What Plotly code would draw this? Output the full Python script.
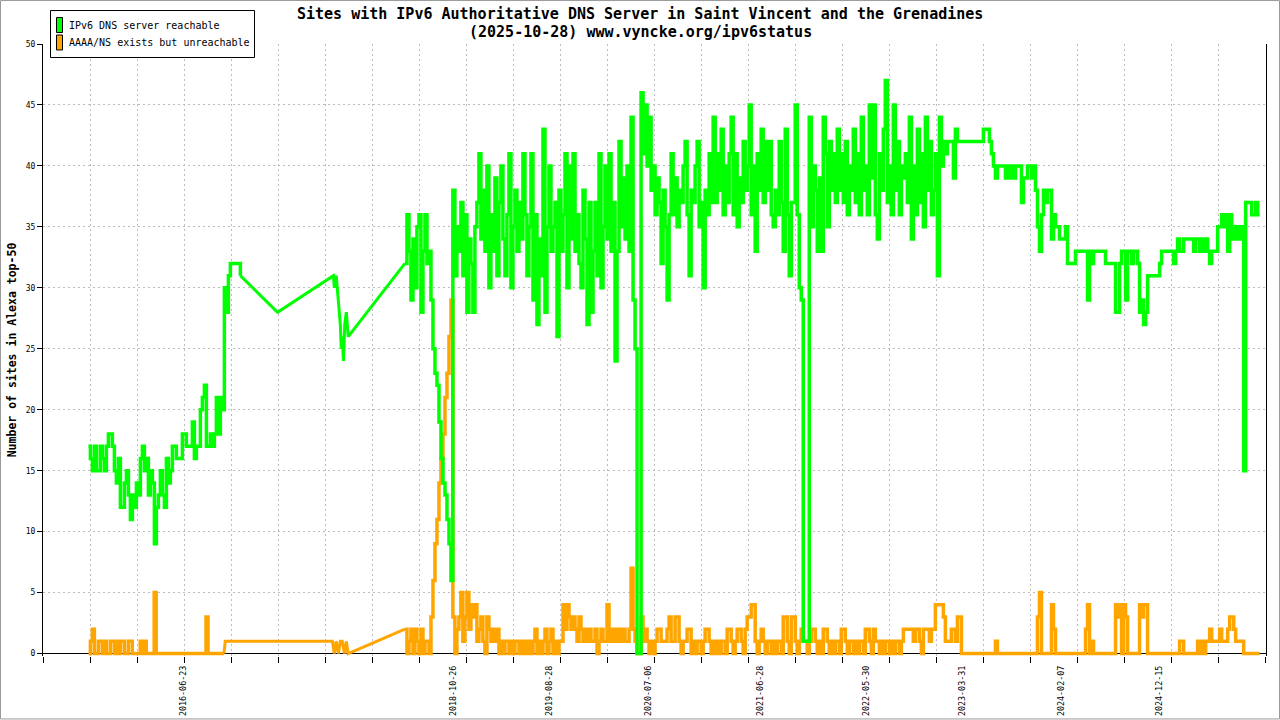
import pandas as pd
import plotly.graph_objects as go

TITLE_LINE1 = "Sites with IPv6 Authoritative DNS Server in Saint Vincent and the Grenadines"
TITLE_LINE2 = "(2025-10-28) www.vyncke.org/ipv6status"
Y_TITLE = "Number of sites in Alexa top-50"
NAME_REACH = "IPv6 DNS server reachable"
NAME_UNREACH = "AAAA/NS exists but unreachable"
COLOR_REACH = "#00ff00"
COLOR_UNREACH = "#ffa500"

TICK_DATES = ["2016-06-23", "2018-10-26", "2019-08-28", "2020-07-06", "2021-06-28",
              "2022-05-30", "2023-03-31", "2024-02-07", "2024-12-15"]
X_START, X_END = "2015-04-05", "2025-11-17"
GRID_DAYS = 149.15

# ---- period 1: 2015-08 .. 2016-12 (regular samples)
P1_REACH_START, P1_REACH_END = "2015-08-27", "2016-12-21"
reach_p1 = [17, 16, 15, 17, 15, 15, 17, 16, 15, 17,
            18, 18, 17, 15, 14, 16, 12, 12, 14, 15,
            13, 11, 13, 12, 14, 13, 16, 17, 15, 16,
            13, 15, 14, 9, 12, 13, 15, 13, 12, 16,
            14, 15, 17, 17, 16, 16, 16, 18, 18, 17,
            17, 17, 19, 16, 17, 17, 20, 21, 22, 17,
            17, 18, 17, 18, 21, 18, 21, 20, 30, 28,
            31, 32, 32, 32, 32, 32, 31]
P1_UNREACH_START, P1_UNREACH_END = "2015-08-27", "2016-10-30"
unreach_p1 = [0, 1, 2, 0, 0, 1, 1, 0, 1, 0,
              0, 1, 1, 0, 1, 0, 1, 1, 0, 0,
              1, 1, 0, 0, 0, 0, 1, 0, 1, 0,
              0, 0, 0, 5, 0, 0, 0, 0, 0, 0,
              0, 0, 0, 0, 0, 0, 0, 0, 0, 0,
              0, 0, 0, 0, 0, 0, 0, 0, 0, 3,
              0, 0, 0, 0, 0, 0, 0, 0, 0]

# ---- period 2: sparse measurements 2016-11 .. 2017-11
reach_gap_dates = ["2017-04-18", "2017-10-12", "2017-10-15", "2017-10-21", "2017-10-28",
                   "2017-11-03", "2017-11-06", "2017-11-09", "2017-11-13", "2017-11-17",
                   "2017-11-22", "2017-11-28"]
reach_gap = [28, 31, 30, 31, 29, 27, 25, 26, 24, 27, 28, 26]
unreach_gap_dates = ["2016-11-03", "2017-10-09", "2017-10-15", "2017-10-21", "2017-10-28",
                     "2017-11-03", "2017-11-09", "2017-11-16", "2017-11-22", "2017-11-28"]
unreach_gap = [1, 1, 0, 1, 0, 1, 1, 0, 1, 0]

# ---- period 3: 2018-05 .. 2018-10
P3_START, P3_END = "2018-05-27", "2018-10-20"
reach_p3 = [32, 36, 33, 29, 34, 30, 35, 36, 28, 33, 36, 32,
            33, 29, 25, 23, 22, 19, 16, 14, 13, 11, 9, 6]
unreach_p3 = [2, 0, 1, 2, 0, 2, 1, 0, 2, 0, 1, 1,
              0, 3, 6, 9, 11, 14, 16, 18, 21, 23, 26, 29]

# ---- period 4: 2018-10-26 .. 2025-10-28 (regular samples)
P4_START, P4_END = "2018-10-26", "2025-10-28"
reach_p4 = [38, 31, 35, 33, 37, 31, 36, 28, 34, 32,
            28, 35, 37, 41, 34, 38, 33, 40, 30, 36,
            33, 39, 31, 37, 40, 34, 31, 36, 41, 30,
            35, 38, 33, 37, 34, 41, 36, 31, 35, 41,
            29, 36, 27, 34, 31, 43, 28, 35, 40, 33,
            35, 37, 26, 38, 33, 36, 41, 30, 40, 34,
            41, 33, 36, 32, 30, 38, 34, 27, 37, 28,
            33, 37, 31, 41, 30, 35, 40, 34, 41, 33,
            37, 24, 33, 42, 35, 39, 34, 40, 33, 44,
            29, 25, 0, 0, 46, 41, 45, 40, 44, 38,
            40, 36, 39, 37, 32, 38, 35, 29, 36, 41,
            36, 39, 35, 38, 37, 40, 42, 36, 31, 38,
            37, 40, 42, 35, 37, 30, 38, 36, 41, 37,
            44, 37, 41, 38, 43, 36, 40, 37, 41, 44,
            36, 41, 35, 39, 37, 42, 38, 40, 45, 36,
            40, 33, 41, 38, 43, 37, 42, 38, 42, 36,
            35, 38, 36, 42, 37, 33, 43, 36, 31, 37,
            37, 45, 36, 30, 29, 1, 1, 1, 44, 35,
            40, 38, 33, 39, 33, 44, 41, 35, 42, 38,
            41, 37, 43, 38, 41, 37, 42, 36, 40, 38,
            43, 37, 41, 36, 44, 38, 40, 36, 45, 39,
            45, 36, 34, 41, 38, 43, 47, 37, 40, 36,
            45, 38, 42, 36, 40, 39, 41, 37, 44, 34,
            40, 36, 43, 37, 41, 35, 44, 38, 42, 36,
            38, 41, 31, 44, 40, 42, 41, 42, 42, 42,
            39, 43, 42, 42]
reach_p5 = [42, 42, 42, 42, 42, 42, 42, 42, 42, 42,
            42, 43, 43, 43, 42, 41, 40, 39, 40, 40,
            40, 40, 39, 40, 39, 40, 39, 40, 40, 40,
            37, 39, 39, 40, 40, 39, 40, 38, 35, 33,
            36, 38, 37, 38, 38, 34, 36, 35, 35, 34,
            34, 34, 35, 32, 32, 32, 32, 33, 33, 33,
            33, 33, 33, 29, 33, 32, 33, 33, 33, 33,
            33, 33, 32, 32, 32, 32, 32, 28, 28, 32,
            33, 33, 29, 33, 33, 32, 33, 33, 32, 28,
            29, 27, 28, 31, 31, 31, 31, 31, 31, 32,
            33, 33, 33, 33, 33, 33, 32, 33, 34, 33,
            33, 34, 34, 34, 34, 34, 33, 34, 34, 33,
            34, 33, 34, 33, 32, 33, 33, 33, 35, 35,
            36, 35, 36, 33, 36, 34, 35, 34, 35, 34,
            35, 15, 37, 37, 37, 36, 36, 37, 36, 36]
unreach_p4 = [3, 0, 2, 3, 5, 1, 3, 5, 2, 4,
              3, 4, 1, 2, 3, 1, 0, 3, 2, 1,
              2, 1, 2, 0, 1, 0, 1, 1, 0, 1,
              0, 1, 1, 0, 1, 0, 1, 0, 1, 0,
              1, 2, 0, 1, 0, 1, 2, 0, 1, 2,
              0, 1, 0, 1, 1, 4, 2, 4, 3, 2,
              3, 2, 1, 3, 2, 1, 2, 1, 2, 1,
              1, 2, 0, 1, 2, 1, 1, 4, 1, 2,
              1, 2, 1, 2, 1, 2, 1, 1, 2, 7,
              2, 1, 0, 0, 3, 1, 2, 1, 0, 1,
              0, 1, 2, 2, 1, 1, 1, 2, 3, 1,
              1, 3, 3, 1, 0, 1, 1, 2, 2, 0,
              1, 0, 1, 1, 0, 1, 2, 2, 1, 0,
              1, 0, 1, 0, 1, 1, 0, 2, 2, 1,
              0, 1, 2, 2, 1, 0, 2, 3, 3, 4,
              4, 1, 0, 1, 2, 1, 0, 1, 1, 0,
              1, 0, 1, 1, 0, 3, 3, 1, 0, 3,
              3, 1, 0, 1, 2, 1, 1, 0, 1, 2,
              2, 1, 0, 1, 0, 2, 2, 1, 0, 1,
              0, 1, 1, 0, 2, 2, 1, 0, 1, 1,
              0, 1, 0, 1, 1, 0, 2, 2, 1, 0,
              2, 1, 1, 0, 1, 0, 1, 1, 0, 1,
              0, 1, 1, 0, 1, 2, 2, 2, 2, 2,
              1, 2, 2, 1, 0, 2, 2, 2, 1, 2,
              2, 4, 4, 4, 4, 3, 1, 1, 1, 2,
              2, 1, 3, 3]
unreach_p5 = [0, 0, 0, 0, 0, 0, 0, 0, 0, 0,
              0, 0, 0, 0, 0, 0, 0, 1, 0, 0,
              0, 0, 0, 0, 0, 0, 0, 0, 0, 0,
              0, 0, 0, 0, 0, 0, 0, 0, 3, 5,
              0, 0, 0, 0, 0, 4, 2, 0, 0, 0,
              0, 0, 0, 0, 0, 0, 0, 0, 0, 0,
              0, 0, 2, 4, 0, 1, 0, 0, 0, 0,
              0, 0, 0, 0, 0, 0, 0, 4, 3, 4,
              0, 4, 3, 0, 0, 0, 0, 0, 0, 4,
              3, 4, 4, 0, 0, 0, 0, 0, 0, 0,
              0, 0, 0, 0, 0, 0, 0, 0, 0, 1,
              1, 0, 0, 0, 0, 0, 0, 0, 1, 0,
              1, 0, 1, 1, 2, 1, 1, 1, 1, 2,
              1, 1, 1, 2, 3, 3, 2, 1, 1, 1,
              1, 0, 0, 0, 0, 0, 0, 0, 0, 0]


def regular_dates(start, end, n):
    return list(pd.date_range(start, end, periods=n))


# green (reachable) pieces
r1_x = regular_dates(P1_REACH_START, P1_REACH_END, len(reach_p1))
r1_y = reach_p1
r3_x = (regular_dates(P3_START, P3_END, len(reach_p3))
        + regular_dates(P4_START, P4_END, len(reach_p4) + len(reach_p5)))
r3_y = reach_p3 + reach_p4 + reach_p5
r2_x = [r1_x[-1]] + list(pd.to_datetime(reach_gap_dates)) + [r3_x[0]]
r2_y = [r1_y[-1]] + reach_gap + [r3_y[0]]

# orange (unreachable) pieces
u1_x = regular_dates(P1_UNREACH_START, P1_UNREACH_END, len(unreach_p1))
u1_y = unreach_p1
u3_x = (regular_dates(P3_START, P3_END, len(unreach_p3))
        + regular_dates(P4_START, P4_END, len(unreach_p4) + len(unreach_p5)))
u3_y = unreach_p3 + unreach_p4 + unreach_p5
u2_x = [u1_x[-1]] + list(pd.to_datetime(unreach_gap_dates)) + [u3_x[0]]
u2_y = [u1_y[-1]] + unreach_gap + [u3_y[0]]

LW_DENSE = 3.5
LW_LINK = 3
fig = go.Figure()
for xs, ys, shape, lw in [(u1_x, u1_y, "hv", LW_DENSE), (u2_x, u2_y, "linear", LW_LINK),
                          (u3_x, u3_y, "hv", LW_DENSE)]:
    fig.add_trace(go.Scatter(x=xs, y=ys, mode="lines", showlegend=False, name=NAME_UNREACH,
                             line=dict(color=COLOR_UNREACH, width=lw, shape=shape)))
for xs, ys, shape, lw in [(r1_x, r1_y, "hv", LW_DENSE), (r2_x, r2_y, "linear", LW_LINK),
                          (r3_x, r3_y, "hv", LW_DENSE)]:
    fig.add_trace(go.Scatter(x=xs, y=ys, mode="lines", showlegend=False, name=NAME_REACH,
                             line=dict(color=COLOR_REACH, width=lw, shape=shape)))

# plot-area geometry (pixels) used to place the title and legend box
W, H = 1280, 720
ML, MR, MT, MB = 43, 14, 44, 63.5
PW, PH = W - ML - MR, H - MT - MB


def px_x(p):
    return (p - ML) / PW


def px_y(p):
    return (H - MB - p) / PH


MONO = "DejaVu Sans Mono"
GRID_COLOR = "#bdbdbd"
GRID_DASH = "2px,3px"

fig.update_layout(
    width=W, height=H,
    margin=dict(l=ML, r=MR, t=MT, b=MB, pad=0, autoexpand=False),
    paper_bgcolor="white", plot_bgcolor="white",
    font=dict(family=MONO, color="black", size=10),
    showlegend=False,
    xaxis=dict(type="date", range=[X_START, X_END], automargin=False,
               tickmode="array", tickvals=TICK_DATES, ticktext=TICK_DATES,
               tickangle=-90, ticks="", showgrid=False, showline=False,
               zeroline=False, tickfont=dict(family=MONO, size=8.4),
               ticklabelstandoff=7, layer="below traces",
               minor=dict(tickmode="linear", tick0=X_START, dtick=GRID_DAYS * 86400000,
                          ticks="outside", ticklen=6, tickcolor="black",
                          showgrid=True, gridcolor=GRID_COLOR, griddash=GRID_DASH, gridwidth=1)),
    yaxis=dict(range=[-0.2, 50], tick0=0, dtick=5, ticks="outside", ticklen=5,
               automargin=False,
               tickcolor="black", showline=True, linecolor="black", linewidth=1,
               mirror=True, showgrid=True, gridcolor=GRID_COLOR, griddash=GRID_DASH,
               zeroline=True, zerolinecolor="black", zerolinewidth=1,
               tickfont=dict(family=MONO, size=8), layer="below traces",
               title=dict(text="<b>" + Y_TITLE + "</b>",
                          font=dict(family=MONO, size=11.5), standoff=6)),
)

# title (two centred lines)
for txt, yc in [(TITLE_LINE1, 13.5), (TITLE_LINE2, 31.5)]:
    fig.add_annotation(text="<b>" + txt + "</b>", xref="paper", yref="paper",
                       x=px_x(640), y=px_y(yc), xanchor="center", yanchor="middle",
                       showarrow=False, font=dict(family=MONO, size=15, color="black"))

# legend box with colour swatches
fig.add_shape(type="rect", xref="paper", yref="paper",
              x0=px_x(50.5), x1=px_x(254.5), y0=px_y(57.5), y1=px_y(10.5),
              line=dict(color="black", width=1), fillcolor="white", layer="above")
for (name, col), yc in zip([(NAME_REACH, COLOR_REACH), (NAME_UNREACH, COLOR_UNREACH)], [25, 42.5]):
    fig.add_shape(type="rect", xref="paper", yref="paper",
                  x0=px_x(56.5), x1=px_x(62.5), y0=px_y(yc + 7.5), y1=px_y(yc - 7.5),
                  line=dict(color="black", width=1), fillcolor=col, layer="above")
    fig.add_annotation(text=name, xref="paper", yref="paper",
                       x=px_x(67), y=px_y(yc), xanchor="left", yanchor="middle",
                       showarrow=False, font=dict(family=MONO, size=10, color="black"))

# outer grey frame of the image
fig.add_shape(type="rect", xref="paper", yref="paper",
              x0=px_x(0.5), x1=px_x(W - 0.5), y0=px_y(H - 0.5), y1=px_y(0.5),
              line=dict(color="#999999", width=1), fillcolor="rgba(0,0,0,0)", layer="above")

fig.write_html("out.html", config={"displayModeBar": False},
               post_script="document.body.style.margin='0px';")
